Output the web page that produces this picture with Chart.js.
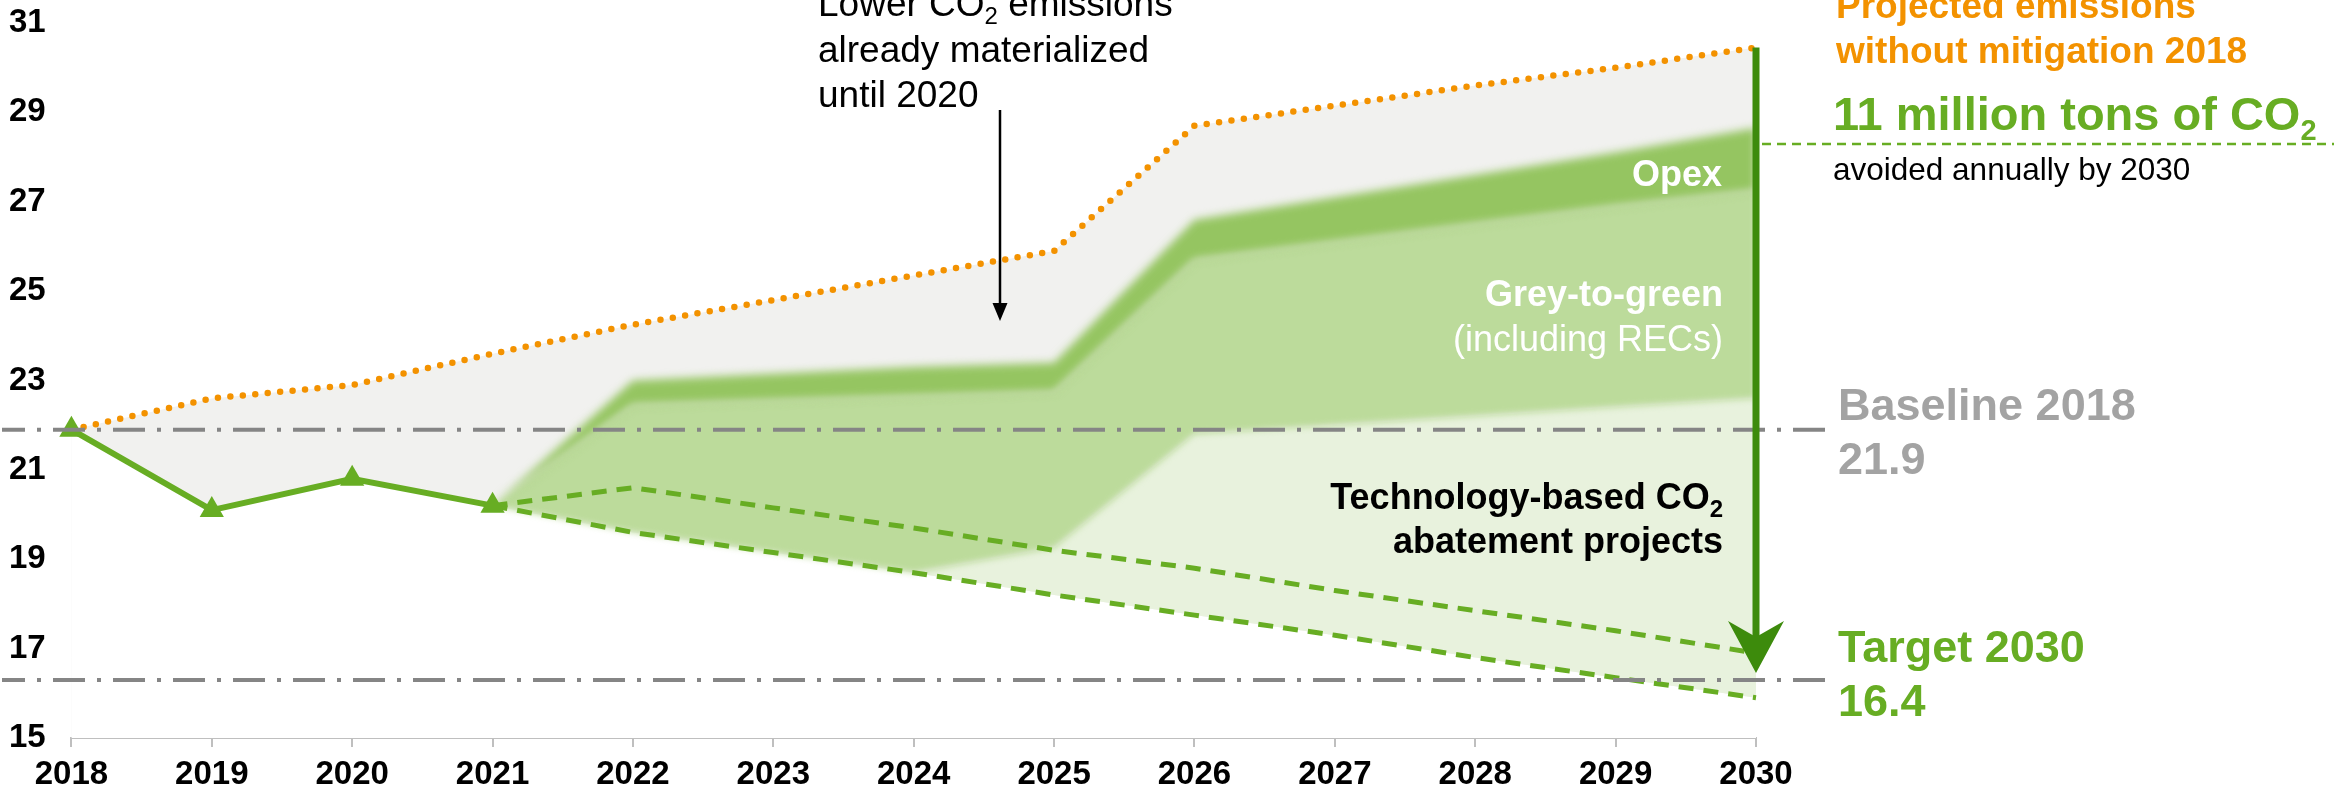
<!DOCTYPE html>
<html>
<head>
<meta charset="utf-8">
<script src="https://cdn.jsdelivr.net/npm/chart.js@4.4.1/dist/chart.umd.min.js"></script>
<style>
html, body { margin: 0; padding: 0; background: #fff; }
canvas { display: block; }
</style>
</head>
<body>
<canvas id="chart" width="2336" height="793"></canvas>
<script>
// Data (million tons CO2)
const years = ["2018", "2019", "2020", "2021", "2022", "2023", "2024", "2025", "2026", "2027", "2028", "2029", "2030"];
const yTicks = [15, 17, 19, 21, 23, 25, 27, 29, 31];
const actual = [21.9, 20.1, 20.8, 20.2, null, null, null, null, null, null, null, null, null];
const projected = [21.9, 22.6, 22.9, 23.6, 24.25, 24.8, 25.35, 25.9, 28.7, 29.15, 29.6, 30.0, 30.45];
const highPath = [null, null, null, 20.2, 20.6, 20.15, 19.7, 19.2, 18.8, 18.3, 17.85, 17.4, 16.9];
const lowPath = [null, null, null, 20.2, 19.6, 19.15, 18.7, 18.2, 17.75, 17.3, 16.8, 16.35, 15.9];
const opexTop = [null, null, null, 20.2, 23.0, 23.15, 23.3, 23.4, 26.6, 27.1, 27.6, 28.1, 28.65];
const opexBottom = [null, null, null, 20.2, 22.45, 22.55, 22.65, 22.75, 25.7, 26.1, 26.5, 26.9, 27.25];
const techTop = [null, null, null, 20.2, 19.6, 19.15, 18.7, 19.25, 21.8, 22.0, 22.2, 22.4, 22.6];
const baseline2018 = 21.9;
const target2030 = 16.3;

// lowest drawn line: actual until 2021, then the low path
const floorLine = actual.map((v, i) => v !== null ? v : lowPath[i]);

const FONT = "'Liberation Sans', Arial, sans-serif";
const GREEN = '#67ad23';
const ORANGE = '#f39200';

Chart.defaults.font.family = FONT;

// fills get a soft edge: canvas filter is set just before the filler draws the next dataset
function primeBlur(chart, pos) {
    const meta = chart.getSortedVisibleDatasetMetas()[pos];
    const blur = meta && chart.data.datasets[meta.index].softEdge;
    chart.ctx.filter = blur ? `blur(${blur}px)` : 'none';
}
const softEdge = {
    id: 'softEdge',
    beforeDatasetsDraw(chart) { primeBlur(chart, chart.getSortedVisibleDatasetMetas().length - 1); },
    beforeDatasetDraw(chart) { chart.ctx.filter = 'none'; },
    afterDatasetDraw(chart, args) {
        const pos = chart.getSortedVisibleDatasetMetas().indexOf(args.meta);
        primeBlur(chart, pos - 1);
    },
    afterDatasetsDraw(chart) { chart.ctx.filter = 'none'; }
};

function drawParts(ctx, parts, x, y, align) {
    let total = 0;
    parts.forEach(p => { ctx.font = p[1]; total += ctx.measureText(p[0]).width; });
    let cx = align === 'right' ? x - total : x;
    ctx.textAlign = 'left';
    ctx.textBaseline = 'alphabetic';
    parts.forEach(p => {
        ctx.font = p[1];
        ctx.fillText(p[0], cx, y + (p[2] || 0));
        cx += ctx.measureText(p[0]).width;
    });
}

const annotations = {
    id: 'annotations',
    afterDraw(chart) {
        const ctx = chart.ctx;
        const xs = chart.scales.x, ys = chart.scales.y;
        ctx.save();

        // baseline / target reference lines
        ctx.strokeStyle = '#858585';
        ctx.lineWidth = 4;
        ctx.setLineDash([32, 12, 4, 12]);
        ctx.lineDashOffset = 9;
        [baseline2018, target2030].forEach(v => {
            const y = ys.getPixelForValue(v);
            ctx.beginPath(); ctx.moveTo(2, y); ctx.lineTo(1825, y); ctx.stroke();
        });
        ctx.setLineDash([]);
        ctx.lineDashOffset = 0;

        // big arrow at 2030
        const ax = xs.getPixelForValue(years.length - 1);
        const top = ys.getPixelForValue(projected[projected.length - 1]);
        const tip = ys.getPixelForValue(target2030) - 7;
        ctx.strokeStyle = ctx.fillStyle = '#3d8b0c';
        ctx.lineWidth = 7;
        ctx.beginPath(); ctx.moveTo(ax, top); ctx.lineTo(ax, tip - 36); ctx.stroke();
        ctx.beginPath();
        ctx.moveTo(ax, tip); ctx.lineTo(ax - 28, tip - 52); ctx.lineTo(ax, tip - 36); ctx.lineTo(ax + 28, tip - 52);
        ctx.closePath(); ctx.fill();

        // small black arrow
        ctx.strokeStyle = ctx.fillStyle = '#000';
        ctx.lineWidth = 2.5;
        ctx.beginPath(); ctx.moveTo(1000, 110); ctx.lineTo(1000, 306); ctx.stroke();
        ctx.beginPath(); ctx.moveTo(1000, 321); ctx.lineTo(992.5, 303); ctx.lineTo(1007.5, 303); ctx.closePath(); ctx.fill();

        // green dashed marker next to "11 million tons"
        ctx.strokeStyle = GREEN;
        ctx.lineWidth = 2.5;
        ctx.setLineDash([9, 6]);
        ctx.beginPath(); ctx.moveTo(1762, 144); ctx.lineTo(2334, 144); ctx.stroke();
        ctx.setLineDash([]);

        // texts
        const reg = s => `${s}px ${FONT}`;
        const bold = s => `bold ${s}px ${FONT}`;

        ctx.fillStyle = '#000';
        drawParts(ctx, [['Lower CO', reg(37)], ['2', reg(24), 8], [' emissions', reg(37)]], 818, 16);
        drawParts(ctx, [['already materialized', reg(37)]], 818, 61.5);
        drawParts(ctx, [['until 2020', reg(37)]], 818, 107);

        ctx.fillStyle = ORANGE;
        drawParts(ctx, [['Projected emissions', bold(37)]], 1836, 18);
        drawParts(ctx, [['without mitigation 2018', bold(37)]], 1836, 63);

        ctx.fillStyle = GREEN;
        drawParts(ctx, [['11 million tons of CO', bold(47)], ['2', bold(29), 10]], 1833, 130);

        ctx.fillStyle = '#000';
        drawParts(ctx, [['avoided annually by 2030', reg(31.5)]], 1833, 180);

        ctx.fillStyle = '#a3a3a3';
        drawParts(ctx, [['Baseline 2018', bold(45)]], 1838, 420);
        drawParts(ctx, [['21.9', bold(45)]], 1838, 474);

        ctx.fillStyle = GREEN;
        drawParts(ctx, [['Target 2030', bold(45)]], 1838, 662);
        drawParts(ctx, [['16.4', bold(45)]], 1838, 716);

        ctx.fillStyle = '#fff';
        drawParts(ctx, [['Opex', bold(36)]], 1722, 186, 'right');
        drawParts(ctx, [['Grey-to-green', bold(36)]], 1723, 306, 'right');
        drawParts(ctx, [['(including RECs)', reg(36)]], 1723, 351, 'right');

        ctx.fillStyle = '#000';
        drawParts(ctx, [['Technology-based CO', bold(36)], ['2', bold(24), 8]], 1723, 509, 'right');
        drawParts(ctx, [['abatement projects', bold(36)]], 1723, 553, 'right');

        ctx.restore();
    }
};

const noPoints = { pointRadius: 0, pointHoverRadius: 0 };

new Chart(document.getElementById('chart'), {
    type: 'line',
    data: {
        labels: years,
        datasets: [
            // 0 actual emissions
            { data: actual, borderColor: GREEN, borderWidth: 6, fill: false, order: 1,
              pointStyle: 'triangle', pointRadius: 14, pointBackgroundColor: GREEN, pointBorderWidth: 0 },
            // 1 projected without mitigation (dotted)
            { data: projected, borderColor: ORANGE, borderWidth: 6.5, borderDash: [0, 12.5], borderCapStyle: 'round',
              fill: false, order: 2, ...noPoints },
            // 2, 3 reduction paths (dashed)
            { data: highPath, borderColor: GREEN, borderWidth: 5, borderDash: [15, 10], fill: false, order: 3, ...noPoints },
            { data: lowPath, borderColor: GREEN, borderWidth: 5, borderDash: [15, 10], fill: false, order: 3, ...noPoints },
            // 4 opex band
            { data: opexTop, borderWidth: 0, fill: { target: 5 }, backgroundColor: '#95c561', order: 10, softEdge: 4, ...noPoints },
            // 5 grey-to-green band
            { data: opexBottom, borderWidth: 0, fill: { target: 6 }, backgroundColor: '#bcdb9b', order: 11, softEdge: 3, ...noPoints },
            // 6 technology-based band
            { data: techTop, borderWidth: 0, fill: { target: 7 }, backgroundColor: '#e8f2dd', order: 12, ...noPoints },
            // 7 low path (fill target for the technology band)
            { data: lowPath, borderWidth: 0, fill: false, order: 13, ...noPoints },
            // 8 white below actual + low path
            { data: floorLine, borderWidth: 0, fill: 'start', backgroundColor: '#ffffff', order: 14, ...noPoints },
            // 9 grey area under the projection
            { data: projected, borderWidth: 0, fill: 'start', backgroundColor: '#f1f1ef', order: 15, ...noPoints }
        ]
    },
    options: {
        responsive: false,
        devicePixelRatio: 1,
        animation: false,
        layout: { padding: { left: 9, top: 23, right: 580, bottom: 0 } },
        plugins: { legend: { display: false }, tooltip: { enabled: false } },
        elements: { line: { tension: 0 } },
        scales: {
            x: {
                type: 'category',
                grid: { display: true, drawOnChartArea: false, drawTicks: true, tickLength: 9, color: '#bfbfbf', lineWidth: 2 },
                border: { display: true, color: '#bfbfbf', width: 2 },
                ticks: { color: '#000', font: { size: 33, weight: 'bold' }, padding: 8, maxRotation: 0, autoSkip: false },
                afterFit: s => { s.height = 55; }
            },
            y: {
                min: 15, max: 31,
                grid: { display: false },
                border: { display: false },
                afterBuildTicks: s => { s.ticks = yTicks.map(v => ({ value: v })); },
                ticks: { color: '#000', font: { size: 33, weight: 'bold' }, crossAlign: 'far', padding: 0 },
                afterFit: s => { s.width = 62.4; }
            }
        }
    },
    plugins: [softEdge, annotations]
});
</script>
</body>
</html>
